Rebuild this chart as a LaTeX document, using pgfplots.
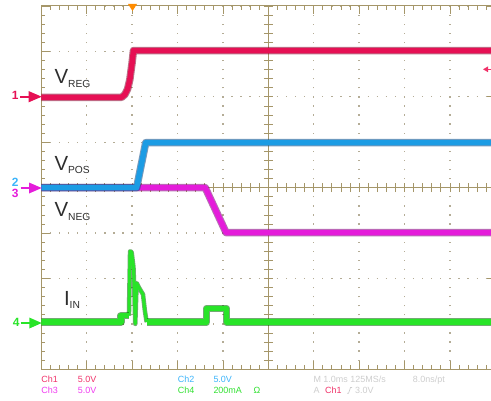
\documentclass[border=0pt]{standalone}
\usepackage{pgfplots}
\usepackage{pgfplotstable}
\pgfplotsset{compat=1.18}
\usepackage{fontspec}
\setmainfont{Liberation Sans}
\definecolor{gridc}{RGB}{165,150,105}
\definecolor{dotc}{RGB}{180,172,150}
\definecolor{c1}{RGB}{230,16,84}
\definecolor{c1d}{RGB}{130,0,40}
\definecolor{c2}{RGB}{28,156,228}
\definecolor{c2d}{RGB}{10,70,130}
\definecolor{c3}{RGB}{228,28,218}
\definecolor{c3d}{RGB}{120,0,115}
\definecolor{c4}{RGB}{40,228,40}
\definecolor{c4d}{RGB}{0,100,0}
\definecolor{labc}{RGB}{45,45,45}
\definecolor{t1}{RGB}{240,50,105}
\definecolor{t2}{RGB}{60,180,250}
\definecolor{t3}{RGB}{240,60,240}
\definecolor{t4}{RGB}{50,225,50}
\definecolor{tg}{RGB}{205,205,205}
\definecolor{trig}{RGB}{255,140,0}

% data in screen divisions (x: 1.0 ms/div, y: divisions)
\pgfplotstableread{
x y
0 1.99
1.77 1.99
1.84 2.05
1.90 2.17
1.95 2.38
2.00 2.75
2.03 3.02
10 3.02
}\chA
\pgfplotstableread{
x y
0 0.0
2.10 0.0
2.30 0.99
10 0.99
}\chB
\pgfplotstableread{
x y
0 0.0
3.61 0.0
4.07 -0.99
10 -0.99
}\chC
\pgfplotstableread{
x y
0 -2.96
1.755 -2.96
1.755 -2.82
1.93 -2.82
}\chDa
\pgfplotstableread{
x y
1.93 -2.82
1.955 -1.40
1.99 -1.42
2.03 -1.75
2.05 -2.3
2.07 -3.0
2.10 -2.1
2.15 -2.2
2.24 -2.35
2.28 -2.7
2.32 -2.96
}\chDb
\pgfplotstableread{
x y
2.32 -2.96
3.64 -2.96
3.64 -2.66
4.08 -2.66
4.08 -2.96
10 -2.96
}\chDc

\begin{document}
\begin{tikzpicture}[x=1bp,y=1bp]
\path[use as bounding box] (0,0) rectangle (491,400);
\clip (0,0) rectangle (491,400);
\pgfplotsset{scopeaxis/.style={at={(41.3bp,30.7bp)}, anchor=south west, scale only axis, width=454bp, height=363.3bp}}

% frame + dotted graticule
\begin{axis}[scopeaxis, xmin=0,xmax=10,ymin=-4,ymax=4,
 xtick={0,...,10}, ytick={-4,...,4}, minor x tick num=4, minor y tick num=4,
 xticklabels={}, yticklabels={}, tick align=inside,
 major tick length=8.5bp, minor tick length=4bp,
 axis line style={draw=gridc, line width=1bp},
 tick style={draw=gridc, line width=0.8bp},
 grid=major, major grid style={draw=dotc, line width=1.3bp, dash pattern=on 1.3bp off 7.78bp, dash phase=0.65bp}]
\end{axis}

% centre cross
\begin{axis}[scopeaxis, xmin=-5,xmax=5,ymin=-4,ymax=4, axis lines=middle,
 axis line style={-, draw=gridc, line width=1bp},
 xtick={-5,...,5}, ytick={-4,...,4}, minor x tick num=4, minor y tick num=4,
 xticklabels={}, yticklabels={}, tick align=center,
 major tick length=9bp, minor tick length=9bp,
 tick style={draw=gridc, line width=0.8bp}]
\end{axis}

% traces
\begin{axis}[scopeaxis, xmin=0,xmax=10,ymin=-4,ymax=4, hide axis, line join=round]
\addplot[c3d, line width=7.5bp, opacity=0.55] table {\chC};
\addplot[c3, line width=5.5bp] table {\chC};
\addplot[c2d, line width=7.5bp, opacity=0.55] table {\chB};
\addplot[c2, line width=5.5bp] table {\chB};
\addplot[c1d, line width=7.5bp, opacity=0.55] table {\chA};
\addplot[c1, line width=5.5bp] table {\chA};
\addplot[c4d, line width=4.5bp, opacity=0.55] table {\chDb};
\addplot[c4, line width=3bp] table {\chDb};
\addplot[c4d, line width=7.5bp, opacity=0.55] table {\chDa};
\addplot[c4, line width=5.5bp] table {\chDa};
\addplot[c4d, line width=7.5bp, opacity=0.55] table {\chDc};
\addplot[c4, line width=5.5bp] table {\chDc};
\end{axis}

% trace labels
\node[anchor=base west, inner sep=0, labc] at (54.3,317) {\fontsize{20.5}{20}\selectfont V\raisebox{-4bp}{\fontsize{10.3}{10}\selectfont REG}};
\node[anchor=base west, inner sep=0, labc] at (54.3,230) {\fontsize{20.5}{20}\selectfont V\raisebox{-3.3bp}{\fontsize{10.3}{10}\selectfont POS}};
\node[anchor=base west, inner sep=0, labc] at (54.3,184) {\fontsize{20.5}{20}\selectfont V\raisebox{-4.7bp}{\fontsize{10.3}{10}\selectfont NEG}};
\node[anchor=base west, inner sep=0, labc] at (63.8,95) {\fontsize{20.5}{20}\selectfont I\raisebox{-3.3bp}{\fontsize{10.3}{10}\selectfont IN}};

% channel ground markers
\node[anchor=base, inner sep=0, c1, font=\bfseries\fontsize{12}{12}\selectfont] at (15.3,300.5) {1};
\draw[c1, line width=2.2bp] (20,303.3)--(30,303.3);
\fill[c1] (28.5,309)--(41.7,303.3)--(28.5,297.6)--cycle;
\node[anchor=base, inner sep=0, t2, font=\bfseries\fontsize{12}{12}\selectfont] at (15.3,213.3) {2};
\node[anchor=base, inner sep=0, c3, font=\bfseries\fontsize{12}{12}\selectfont] at (15.3,202.3) {3};
\draw[c3, line width=2.2bp] (20.7,212)--(30,212);
\fill[c3] (29,217.5)--(41.7,212)--(29,206.5)--cycle;
\node[anchor=base, inner sep=0, c4, font=\bfseries\fontsize{12}{12}\selectfont] at (16.3,73.3) {4};
\draw[c4, line width=2.2bp] (20.7,77)--(30,77);
\fill[c4] (29.3,82.5)--(41.7,77)--(29.3,71.5)--cycle;

% trigger markers
\fill[t1] (483,330.7)--(488,333.6)--(488,327.8)--cycle;
\draw[t1, line width=1.3bp] (487,330.7)--(491,330.7);
\fill[trig] (128,396)--(137,396)--(132.5,389)--cycle;

% readout
\begin{scope}[every node/.style={anchor=base west, inner sep=0, font=\fontsize{9}{9}\selectfont}]
\node[t1] at (41.3,17.7) {Ch1};
\node[t1] at (77.7,17.7) {5.0V};
\node[t3] at (41.3,6.7) {Ch3};
\node[t3] at (77.7,6.7) {5.0V};
\node[t2] at (177.7,17.7) {Ch2};
\node[t2] at (213.3,17.7) {5.0V};
\node[t4] at (177.7,6.7) {Ch4};
\node[t4] at (213.3,6.7) {200mA};
\node[t4] at (253.3,6.7) {Ω};
\node[tg] at (313.3,17.7) {M 1.0ms 125MS/s};
\node[tg] at (412.7,17.7) {8.0ns/pt};
\node[tg] at (313.3,6.7) {A};
\node[t1] at (325,6.7) {Ch1};
\node[tg] at (355,6.7) {3.0V};
\end{scope}
\draw[tg, line width=0.7bp] (347,6.7)--(348.5,6.7)--(350.5,12.5)--(352,12.5);
\end{tikzpicture}
\end{document}
